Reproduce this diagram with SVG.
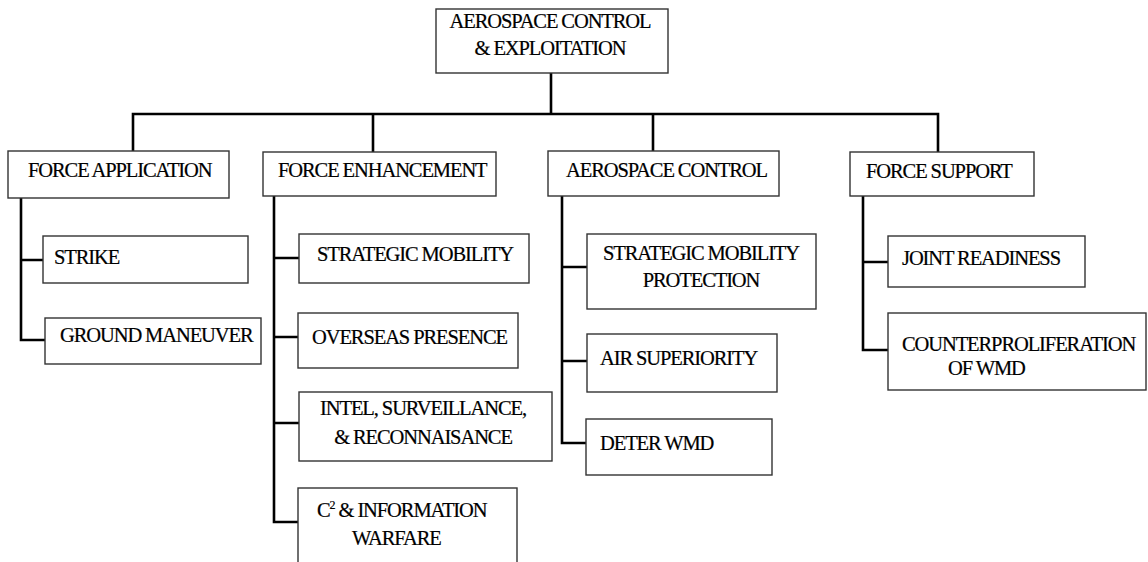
<svg xmlns="http://www.w3.org/2000/svg" width="1148" height="562" viewBox="0 0 1148 562">
<style>
.box{fill:#fff;stroke:#333;stroke-width:1.4}
.t{font-family:'Liberation Serif','Times New Roman',Times,'DejaVu Serif',serif;font-size:20.5px;letter-spacing:-1.1px;fill:#000;stroke:#000;stroke-width:0.2}
.m{text-anchor:middle}
.c{fill:none;stroke:#000;stroke-width:2.6;stroke-linecap:square}
</style>
<rect width="1148" height="562" fill="#fff"/>
<g id="connectors">
<path class="c" d="M551 73V114M133 114H938M133 114V151M373 114V152M653 114V151M938 114V152"/>
<path class="c" d="M21 198V340M21 260H43M21 340H45"/>
<path class="c" d="M274 196V522M274 258H299M274 337H298M274 423H299M274 522H298"/>
<path class="c" d="M562 196V443M562 267H587M562 361H587M562 443H586"/>
<path class="c" d="M863 196V350M863 262H888M863 350H888"/>
</g>
<g id="root"><rect class="box" x="436" y="9" width="232" height="64"/>
<text class="t m" x="550" y="28">AEROSPACE CONTROL</text><text class="t m" x="550" y="55">&amp; EXPLOITATION</text></g>
<g id="force-application"><rect class="box" x="8" y="151" width="221" height="47"/><text class="t" x="28" y="177">FORCE APPLICATION</text></g>
<g id="force-enhancement"><rect class="box" x="263" y="152" width="233" height="44"/><text class="t" x="278" y="177">FORCE ENHANCEMENT</text></g>
<g id="aerospace-control"><rect class="box" x="548" y="151" width="231" height="45"/><text class="t" x="566" y="177">AEROSPACE CONTROL</text></g>
<g id="force-support"><rect class="box" x="850" y="152" width="184" height="44"/><text class="t" x="866" y="178">FORCE SUPPORT</text></g>
<g id="strike"><rect class="box" x="43" y="236" width="205" height="47"/><text class="t" x="54" y="264">STRIKE</text></g>
<g id="ground-maneuver"><rect class="box" x="45" y="318" width="216" height="46"/><text class="t" x="60" y="342">GROUND MANEUVER</text></g>
<g id="strategic-mobility"><rect class="box" x="299" y="234" width="230" height="49"/><text class="t" x="317" y="261">STRATEGIC MOBILITY</text></g>
<g id="overseas-presence"><rect class="box" x="298" y="313" width="220" height="55"/><text class="t" x="312" y="344">OVERSEAS PRESENCE</text></g>
<g id="isr"><rect class="box" x="299" y="392" width="253" height="69"/><text class="t m" x="423" y="415">INTEL, SURVEILLANCE,</text><text class="t m" x="423" y="444">&amp; RECONNAISANCE</text></g>
<g id="c2"><rect class="box" x="298" y="488" width="219" height="82"/><text class="t" x="317" y="517">C<tspan font-size="12" dy="-8">2</tspan><tspan dy="8"> &amp; INFORMATION</tspan></text><text class="t" x="352" y="545">WARFARE</text></g>
<g id="smp"><rect class="box" x="587" y="234" width="229" height="75"/><text class="t m" x="701" y="260">STRATEGIC MOBILITY</text><text class="t m" x="701" y="287">PROTECTION</text></g>
<g id="air-superiority"><rect class="box" x="587" y="334" width="190" height="58"/><text class="t" x="600" y="365">AIR SUPERIORITY</text></g>
<g id="deter-wmd"><rect class="box" x="586" y="419" width="186" height="56"/><text class="t" x="600" y="450">DETER WMD</text></g>
<g id="joint-readiness"><rect class="box" x="888" y="236" width="197" height="51"/><text class="t" x="902" y="265">JOINT READINESS</text></g>
<g id="counterproliferation"><rect class="box" x="888" y="313" width="258" height="77"/><text class="t" x="902" y="351">COUNTERPROLIFERATION</text><text class="t" x="948" y="375">OF WMD</text></g>
</svg>
